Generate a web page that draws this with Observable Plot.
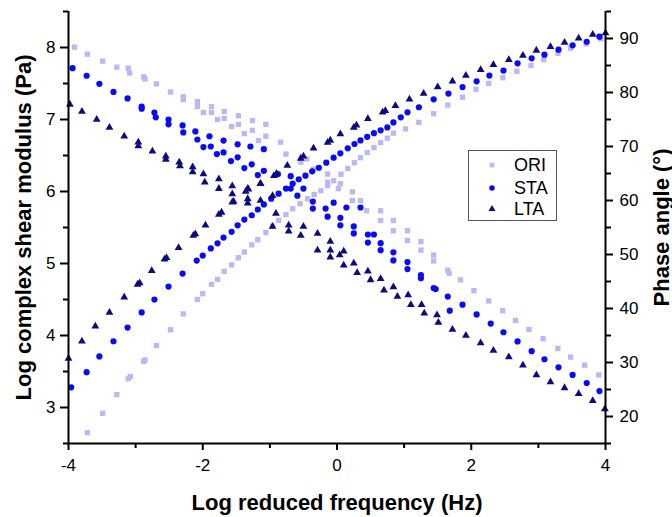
<!DOCTYPE html>
<html><head><meta charset="utf-8">
<script src="https://cdn.jsdelivr.net/npm/d3@7"></script>
<script src="https://cdn.jsdelivr.net/npm/@observablehq/plot@0.6"></script>
<style>
body{margin:0;background:#fff;font-family:"Liberation Sans",Arial,sans-serif;}
#wrap{position:relative;width:672px;height:517px;}
.legend{position:absolute;left:468px;top:150px;width:89px;height:71px;border:1px solid #555;box-sizing:border-box;background:#fff;}
.legend .row{position:absolute;left:0;width:100%;height:20px;}
.legend svg{position:absolute;left:16px;top:3px;}
.legend span{position:absolute;left:45px;top:0;font-size:18px;line-height:20px;color:#000;}
</style></head>
<body><div id="wrap"></div>
<script>
// ---------- data ----------
const seriesNames = ["ORI", "STA", "LTA"];
const xTicks = [-4, -2, 0, 2, 4];
const xMinor = [-3, -1, 1, 3];
const modTicks = [3, 4, 5, 6, 7, 8];
const modMinor = [2.5, 3.5, 4.5, 5.5, 6.5, 7.5, 8.5];
const phaseTicks = [20, 30, 40, 50, 60, 70, 80, 90];
const phaseMinor = [15, 25, 35, 45, 55, 65, 75, 85, 95];

// log complex shear modulus (left axis): [log reduced frequency, log G*]
const oriModulus = [[-3.72,2.65],[-3.49,2.92],[-3.28,3.18],[-3.11,3.40],[-3.08,3.43],[-2.88,3.64],[-2.86,3.66],[-2.69,3.86],[-2.48,4.08],[-2.29,4.30],[-2.08,4.50],[-2.00,4.58],[-1.87,4.71],[-1.78,4.78],[-1.68,4.89],[-1.57,4.98],[-1.47,5.08],[-1.38,5.16],[-1.27,5.26],[-1.18,5.33],[-1.06,5.43],[-0.96,5.52],[-0.87,5.60],[-0.76,5.68],[-0.66,5.76],[-0.55,5.83],[-0.44,5.90],[-0.34,5.96],[-0.24,6.01],[-0.14,6.08],[-0.05,6.15],[0.06,6.24],[0.16,6.32],[0.26,6.40],[0.35,6.47],[0.45,6.54],[0.55,6.61],[0.65,6.68],[0.75,6.74],[0.84,6.81],[1.02,6.87],[1.22,6.96],[1.44,7.08],[1.65,7.20],[1.87,7.31],[2.07,7.42],[2.26,7.50],[2.47,7.58],[2.68,7.67],[2.89,7.75],[3.08,7.83],[3.29,7.92],[3.48,7.99],[3.71,8.05],[3.93,8.12]];
const staModulus = [[-3.96,3.28],[-3.73,3.49],[-3.54,3.71],[-3.33,3.92],[-3.12,4.11],[-2.91,4.32],[-2.72,4.50],[-2.51,4.68],[-2.30,4.86],[-2.09,5.04],[-2.00,5.11],[-1.88,5.21],[-1.78,5.28],[-1.69,5.36],[-1.57,5.44],[-1.48,5.53],[-1.38,5.61],[-1.27,5.67],[-1.18,5.75],[-1.09,5.82],[-0.98,5.90],[-0.87,5.97],[-0.76,6.04],[-0.66,6.11],[-0.57,6.17],[-0.47,6.22],[-0.37,6.28],[-0.27,6.33],[-0.16,6.40],[-0.05,6.47],[0.05,6.53],[0.16,6.60],[0.26,6.66],[0.35,6.71],[0.45,6.76],[0.55,6.81],[0.65,6.85],[0.75,6.89],[0.84,6.96],[0.95,7.03],[1.05,7.10],[1.22,7.17],[1.44,7.28],[1.66,7.36],[1.87,7.45],[2.08,7.53],[2.27,7.61],[2.48,7.68],[2.69,7.78],[2.90,7.85],[3.09,7.90],[3.30,7.97],[3.51,8.03],[3.72,8.08],[3.91,8.15]];
const ltaModulus = [[-4.00,3.68],[-3.80,3.92],[-3.60,4.13],[-3.39,4.32],[-3.17,4.53],[-2.97,4.71],[-2.94,4.73],[-2.76,4.90],[-2.57,5.06],[-2.54,5.08],[-2.36,5.22],[-2.14,5.39],[-2.11,5.41],[-1.96,5.53],[-1.76,5.68],[-1.72,5.71],[-1.56,5.85],[-1.36,6.00],[-1.32,6.03],[-1.14,6.11],[-0.94,6.22],[-0.90,6.25],[-0.74,6.36],[-0.54,6.46],[-0.50,6.49],[-0.35,6.60],[-0.14,6.68],[-0.10,6.71],[0.05,6.80],[0.25,6.89],[0.29,6.92],[0.46,7.01],[0.68,7.10],[0.72,7.12],[0.87,7.19],[1.08,7.28],[1.29,7.36],[1.50,7.45],[1.72,7.53],[1.92,7.61],[2.14,7.69],[2.33,7.76],[2.56,7.83],[2.77,7.89],[2.97,7.96],[3.18,8.01],[3.39,8.07],[3.60,8.13],[3.81,8.18],[4.00,8.20]];

// phase angle (right axis): [log reduced frequency, degrees]
const oriPhase = [[-3.91,88.4],[-3.72,87.1],[-3.49,85.8],[-3.28,84.7],[-3.11,84.5],[-3.09,83.6],[-2.88,82.9],[-2.86,82.5],[-2.69,81.6],[-2.48,80.1],[-2.29,79.2],[-2.29,78.7],[-2.08,78.3],[-2.08,77.4],[-1.99,76.3],[-1.87,77.4],[-1.87,76.3],[-1.78,75.0],[-1.68,76.5],[-1.68,75.2],[-1.57,73.7],[-1.47,75.7],[-1.47,74.1],[-1.38,72.4],[-1.26,74.8],[-1.26,73.0],[-1.17,71.1],[-1.06,74.1],[-1.06,71.9],[-0.84,70.8],[-0.76,68.6],[-0.54,67.1],[-0.45,67.7],[-0.35,65.8],[-0.14,64.9],[-0.14,63.4],[0.02,62.2],[0.05,63.1],[0.23,61.6],[0.23,60.0],[0.35,60.0],[0.44,58.1],[0.65,58.1],[0.65,56.3],[0.84,56.3],[0.84,54.4],[1.05,54.4],[1.05,52.6],[1.25,52.4],[1.25,50.8],[1.44,49.9],[1.44,48.8],[1.65,47.1],[1.67,46.5],[1.84,45.3],[2.04,43.3],[2.26,41.4],[2.47,39.6],[2.66,37.8],[2.86,36.1],[3.07,34.4],[3.29,32.6],[3.48,31.0],[3.69,29.5],[3.90,27.7]];
const staPhase = [[-3.94,84.5],[-3.73,83.1],[-3.54,81.6],[-3.33,80.1],[-3.12,78.9],[-2.91,77.4],[-2.91,77.0],[-2.72,76.3],[-2.70,75.4],[-2.51,75.0],[-2.51,74.1],[-2.30,73.9],[-2.29,72.6],[-2.11,72.8],[-2.08,71.3],[-1.99,69.9],[-1.90,71.9],[-1.88,70.0],[-1.79,68.6],[-1.69,71.1],[-1.69,68.9],[-1.58,67.3],[-1.48,70.4],[-1.48,68.0],[-1.38,66.0],[-1.29,70.0],[-1.27,66.7],[-1.18,64.7],[-1.09,69.5],[-1.09,65.5],[-0.88,64.9],[-0.69,64.5],[-0.69,62.2],[-0.59,60.9],[-0.50,62.2],[-0.36,59.8],[-0.36,58.5],[-0.17,58.5],[-0.14,57.0],[-0.05,59.6],[0.05,56.8],[0.05,55.4],[0.14,58.7],[0.25,55.2],[0.25,53.9],[0.35,58.7],[0.46,53.7],[0.46,52.2],[0.55,53.7],[0.65,52.1],[0.65,50.8],[0.84,50.4],[0.84,48.9],[1.05,48.6],[1.05,47.3],[1.25,46.2],[1.25,45.6],[1.44,43.8],[1.47,43.6],[1.65,42.2],[1.68,39.6],[1.87,40.7],[2.08,38.9],[2.29,37.2],[2.48,35.6],[2.69,33.9],[2.90,32.1],[3.09,30.6],[3.30,29.1],[3.51,27.7],[3.72,26.2],[3.91,24.7]];
const ltaPhase = [[-3.98,77.8],[-3.80,76.5],[-3.58,75.0],[-3.39,73.5],[-3.17,71.9],[-2.96,70.8],[-2.96,70.1],[-2.75,69.1],[-2.55,68.2],[-2.55,67.6],[-2.35,67.1],[-2.34,66.4],[-2.15,66.2],[-2.15,65.3],[-1.99,64.9],[-1.97,63.4],[-1.76,64.0],[-1.76,62.2],[-1.56,62.7],[-1.56,61.2],[-1.54,59.8],[-1.33,62.2],[-1.33,60.3],[-1.33,59.5],[-1.14,63.1],[-1.14,60.0],[-0.96,60.9],[-0.91,57.6],[-0.96,55.2],[-0.72,55.4],[-0.72,54.3],[-0.54,53.5],[-0.50,55.2],[-0.29,53.9],[-0.29,50.8],[-0.10,52.4],[-0.10,50.8],[-0.10,49.5],[0.04,49.9],[0.10,50.6],[0.10,48.0],[0.25,48.4],[0.30,46.6],[0.46,46.9],[0.50,45.3],[0.65,45.5],[0.70,43.4],[0.84,44.0],[0.90,42.2],[1.06,42.5],[1.10,40.7],[1.26,40.7],[1.30,39.1],[1.49,38.8],[1.51,37.4],[1.72,36.1],[1.92,35.0],[2.14,33.6],[2.33,32.2],[2.56,31.0],[2.77,29.5],[2.97,27.7],[3.18,26.4],[3.39,25.3],[3.60,24.2],[3.81,22.9],[3.99,21.4]];

const seriesColors = ["#b9b9f6", "#0a0af8", "#0c0c80"];
const seriesSymbols = ["square", "circle", "triangle"];
const seriesR = [3.0, 3.1, 2.9];

// ---------- build ----------
const yDomain = [2.5, 8.5], pDomain = [15, 95];
const toL = p => yDomain[0] + (p - pDomain[0]) * (yDomain[1] - yDomain[0]) / (pDomain[1] - pDomain[0]);
const fromL = v => pDomain[0] + (v - yDomain[0]) * (pDomain[1] - pDomain[0]) / (yDomain[1] - yDomain[0]);

const modSets = [oriModulus, staModulus, ltaModulus];
const phSets = [oriPhase, staPhase, ltaPhase];

const dotMarks = seriesNames.map((name, i) => {
  const rows = [
    ...modSets[i].map(([x, y]) => ({x, y})),
    ...phSets[i].map(([x, p]) => ({x, y: toL(p)}))
  ];
  return Plot.dot(rows, {x: "x", y: "y", symbol: () => seriesSymbols[i], r: seriesR[i], fill: seriesColors[i], stroke: "none"});
});

const font = "Liberation Sans, Arial, sans-serif";
const chart = Plot.plot({
  width: 672, height: 517,
  marginLeft: 68, marginRight: 67, marginTop: 11, marginBottom: 74,
  x: {domain: [-4, 4]},
  y: {domain: yDomain},
  symbol: {type: "identity"},
  style: {fontFamily: font, fontSize: "17px", color: "#000", background: "#fff", overflow: "visible"},
  marks: [
    ...dotMarks,
    Plot.axisX(xTicks, {tickSize: 7, tickPadding: 8, strokeWidth: 2, fontSize: 17, tickFormat: d => String(d), label: null}),
    Plot.axisX(xMinor, {tickSize: 5, strokeWidth: 2, tickFormat: () => "", label: null}),
    Plot.axisY(modTicks, {anchor: "left", tickSize: 8, tickPadding: 5, strokeWidth: 2, fontSize: 17, tickFormat: d => String(d), label: null}),
    Plot.axisY(modMinor, {anchor: "left", tickSize: 5, strokeWidth: 2, tickFormat: () => "", label: null}),
    Plot.axisY(phaseTicks.map(toL), {anchor: "right", tickSize: 7, tickPadding: 7, strokeWidth: 2, fontSize: 17, tickFormat: v => String(Math.round(fromL(v))), label: null}),
    Plot.axisY(phaseMinor.map(toL), {anchor: "right", tickSize: 5, strokeWidth: 2, tickFormat: () => "", label: null}),
    Plot.ruleX([-4, 4], {strokeWidth: 2}),
    Plot.ruleY([yDomain[0]], {strokeWidth: 2}),
    Plot.text(["Log reduced frequency (Hz)"], {text: d => d, frameAnchor: "bottom", dy: 59, fontSize: 22, fontWeight: "bold", lineAnchor: "middle", textAnchor: "middle"}),
    Plot.text(["Log complex shear modulus (Pa)"], {text: d => d, frameAnchor: "left", dx: -45, rotate: -90, fontSize: 22, fontWeight: "bold", lineAnchor: "middle", textAnchor: "middle"}),
    Plot.text(["Phase angle (°)"], {text: d => d, frameAnchor: "right", dx: 56, rotate: -90, fontSize: 22, fontWeight: "bold", lineAnchor: "middle", textAnchor: "middle"})
  ]
});
const wrap = document.getElementById("wrap");
wrap.appendChild(chart);

// legend
const legend = document.createElement("div");
legend.className = "legend";
const rowTops = [4, 27, 48];
seriesNames.forEach((name, i) => {
  const row = document.createElement("div");
  row.className = "row";
  row.style.top = rowTops[i] + "px";
  const sym = d3.symbol().type(i === 0 ? d3.symbolSquare : i === 1 ? d3.symbolCircle : d3.symbolTriangle).size(Math.PI * seriesR[i] * seriesR[i] * 0.8)();
  row.innerHTML = `<svg width="14" height="14" viewBox="-7 -7 14 14"><path d="${sym}" fill="${seriesColors[i]}"/></svg><span>${name}</span>`;
  legend.appendChild(row);
});
wrap.appendChild(legend);
</script></body></html>
